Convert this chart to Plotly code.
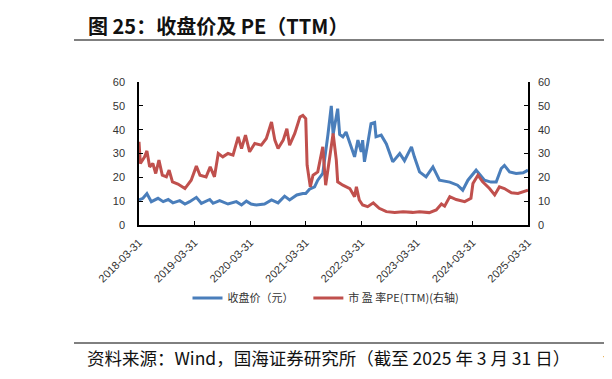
import plotly.graph_objects as go

# ---- data ----
price_dates = [
    "2018-03-31", "2018-04-26", "2018-05-22", "2018-06-20", "2018-08-03", "2018-09-06",
    "2018-10-09", "2018-11-09", "2018-12-24", "2019-01-27", "2019-02-27", "2019-04-12",
    "2019-05-15", "2019-07-09", "2019-07-31", "2019-09-12", "2019-11-06", "2019-12-31",
    "2020-02-03", "2020-03-06", "2020-04-06", "2020-05-09", "2020-07-03", "2020-08-18",
    "2020-09-30", "2020-11-12", "2020-12-15", "2021-01-31", "2021-03-12", "2021-03-31",
    "2021-04-25", "2021-05-28", "2021-06-18", "2021-07-21", "2021-08-24", "2021-09-15",
    "2021-09-27", "2021-10-27", "2021-11-09", "2021-11-30", "2021-12-21", "2022-01-24",
    "2022-02-15", "2022-03-09", "2022-03-31", "2022-04-09", "2022-04-21", "2022-05-12",
    "2022-06-03", "2022-06-27", "2022-07-06", "2022-08-09", "2022-09-12", "2022-10-24",
    "2022-12-09", "2023-01-09", "2023-02-24", "2023-03-15", "2023-04-18", "2023-05-31",
    "2023-07-15", "2023-08-27", "2023-11-03", "2023-12-24", "2024-01-27", "2024-03-01",
    "2024-04-24", "2024-06-18", "2024-07-31", "2024-09-03", "2024-10-06", "2024-10-27",
    "2024-11-30", "2025-01-12", "2025-02-27", "2025-03-31",
]
price_values = [
    10.5, 11.2, 13.2, 9.8, 11.2, 9.8,
    10.7, 9.3, 10.2, 8.8, 9.8, 11.6,
    9.1, 10.7, 9.1, 10.2, 8.8, 9.8,
    8.4, 10.0, 8.8, 8.4, 8.8, 10.5,
    9.3, 12.1, 10.5, 12.6, 13.2, 13.2,
    15.0, 16.0, 18.8, 21.6, 38.0, 50.0,
    38.0, 48.8, 38.0, 37.0, 39.0, 32.8,
    28.6, 35.6, 30.7, 35.6, 26.5, 34.0,
    42.5, 43.0, 37.0, 37.7, 34.0, 26.5,
    30.0, 27.0, 32.8, 28.6, 22.3, 20.2,
    24.4, 18.8, 18.0, 16.7, 14.6, 18.8,
    23.0, 18.8, 18.0, 18.0, 23.7, 25.0,
    22.3, 21.6, 21.9, 23.0,
]

pe_dates = [
    "2018-03-31", "2018-04-09", "2018-05-07", "2018-05-22", "2018-06-09", "2018-06-30",
    "2018-07-19", "2018-08-09", "2018-08-31", "2018-09-27", "2018-10-15", "2018-11-06",
    "2018-12-12", "2019-01-27", "2019-03-09", "2019-04-12", "2019-05-06", "2019-06-15",
    "2019-07-12", "2019-08-09", "2019-09-03", "2019-10-03", "2019-11-06", "2019-12-09",
    "2020-01-12", "2020-02-03", "2020-02-29", "2020-03-27", "2020-04-30", "2020-06-12",
    "2020-07-15", "2020-08-18", "2020-09-09", "2020-09-30", "2020-11-03", "2020-11-27",
    "2020-12-15", "2021-01-18", "2021-02-21", "2021-03-12", "2021-03-31", "2021-04-09",
    "2021-04-30", "2021-05-18", "2021-06-18", "2021-07-21", "2021-08-09", "2021-09-06",
    "2021-09-27", "2021-10-18", "2021-10-27", "2021-11-30", "2022-01-15", "2022-02-15",
    "2022-02-27", "2022-03-18", "2022-04-09", "2022-05-12", "2022-06-18", "2022-07-27",
    "2022-09-12", "2022-11-06", "2022-12-31", "2023-03-03", "2023-04-18", "2023-06-21",
    "2023-08-06", "2023-09-09", "2023-09-30", "2023-11-03", "2023-12-15", "2024-02-09",
    "2024-03-21", "2024-04-03", "2024-05-06", "2024-06-06", "2024-07-21", "2024-08-24",
    "2024-09-24", "2024-10-27", "2024-12-12", "2025-01-24", "2025-03-06", "2025-03-31",
]
pe_values = [
    34.9, 25.8, 28.6, 31.1, 24.4, 25.8,
    21.6, 27.2, 20.9, 20.2, 23.0, 18.1,
    17.2, 15.3, 18.8, 24.7, 20.9, 20.2,
    24.4, 20.2, 30.0, 28.6, 30.0, 29.3,
    37.0, 32.1, 37.7, 30.7, 34.2, 33.5,
    36.3, 43.2, 35.6, 32.1, 35.6, 40.4,
    33.5, 38.4, 45.3, 46.0, 44.6, 25.1,
    16.0, 20.9, 22.3, 32.8, 16.7, 28.6,
    38.4, 27.2, 18.1, 16.7, 15.3, 11.9,
    16.0, 10.5, 8.4, 7.7, 9.3, 7.0,
    5.6, 5.2, 5.6, 5.3, 5.6, 5.2,
    6.3, 8.8, 7.9, 11.9, 10.7, 9.8,
    11.2, 17.4, 20.9, 18.1, 15.3, 12.6,
    16.0, 15.3, 13.5, 13.2, 13.9, 14.6,
]

tick_dates = ["2018-03-31", "2019-03-31", "2020-03-31", "2021-03-31",
              "2022-03-31", "2023-03-31", "2024-03-31", "2025-03-31"]
y_ticks = [0, 10, 20, 30, 40, 50, 60]

title_text = "图 25：收盘价及 PE（TTM）"
source_text = "资料来源：Wind，国海证券研究所（截至 2025 年 3 月 31 日）"
price_name = "收盘价（元）\u00a0\u00a0\u00a0\u00a0"
pe_name = "市 盈 率PE(TTM)(右轴)"

BLUE = "#4A7EBB"
RED = "#C0504D"
TICKFONT = dict(family="Liberation Sans, Arial, sans-serif", size=11, color="#333333")
CJK = "Noto Sans CJK SC, sans-serif"

# The page puts the figure 8 px in from the top-left corner, so the figure is
# sized to the window minus that offset; positions below are page pixels.
OFF = 8
W, H = 612 - OFF, 379 - OFF
L, R, T, B = 139 - OFF, 528 - OFF, 82 - OFF, 225 - OFF   # plot area in figure px
PW, PH = R - L, B - T


def px(x_page):
    return (x_page - OFF - L) / PW


def py(y_page):
    return (B - (y_page - OFF)) / PH


fig = go.Figure()
fig.add_trace(go.Scatter(x=price_dates, y=price_values, mode="lines", name=price_name,
                         line=dict(color=BLUE, width=3), yaxis="y"))
fig.add_trace(go.Scatter(x=pe_dates, y=pe_values, mode="lines", name=pe_name,
                         line=dict(color=RED, width=3), yaxis="y2"))

fig.update_layout(
    width=W, height=H,
    margin=dict(l=L, r=W - R, t=T, b=H - B, autoexpand=False),
    paper_bgcolor="white", plot_bgcolor="white",
    showlegend=True,
    legend=dict(orientation="h", x=px(326), xanchor="center", y=py(298), yanchor="middle",
                font=dict(family=CJK, size=11, color="#333333"),
                bgcolor="rgba(0,0,0,0)"),
    xaxis=dict(
        type="date", range=["2018-03-31", "2025-03-31"],
        tickvals=tick_dates, ticktext=tick_dates, tickangle=-45,
        ticks="inside", ticklen=4, tickcolor="black",
        showline=True, linecolor="black", linewidth=1.5,
        showgrid=False, zeroline=False, tickfont=TICKFONT, automargin=False,
        ticklabelstandoff=5,
    ),
    yaxis=dict(
        range=[0, 60], tickvals=y_ticks, ticks="inside", ticklen=4, tickcolor="black",
        showline=True, linecolor="black", linewidth=1.5, showgrid=False, zeroline=False,
        tickfont=TICKFONT, automargin=False, ticklabelstandoff=10,
    ),
    yaxis2=dict(
        range=[0, 60], tickvals=y_ticks, overlaying="y", side="right",
        ticks="inside", ticklen=4, tickcolor="black",
        showline=True, linecolor="black", linewidth=1.5, showgrid=False, zeroline=False,
        tickfont=TICKFONT, automargin=False, ticklabelstandoff=6,
    ),
)

# title, rules and source
fig.add_annotation(text="<b>" + title_text + "</b>", xref="paper", yref="paper",
                   x=px(86), y=py(25), xanchor="left", yanchor="middle",
                   showarrow=False, font=dict(family=CJK, size=20, color="#111111"))
fig.add_annotation(text="<b>图</b>", xref="paper", yref="paper",
                   x=px(602), y=py(25), xanchor="left", yanchor="middle",
                   showarrow=False, font=dict(family=CJK, size=20, color="#111111"))
fig.add_annotation(text=source_text, xref="paper", yref="paper",
                   x=px(85), y=py(357), xanchor="left", yanchor="middle",
                   showarrow=False, font=dict(family=CJK, size=17.5, color="#111111"))
fig.add_annotation(text="请", xref="paper", yref="paper",
                   x=px(601), y=py(357), xanchor="left", yanchor="middle",
                   showarrow=False, font=dict(family=CJK, size=17, color="#111111"))
fig.add_shape(type="line", xref="paper", yref="paper",
              x0=px(74), x1=px(620), y0=py(40), y1=py(40),
              line=dict(color="#7f7f7f", width=2))
fig.add_shape(type="line", xref="paper", yref="paper",
              x0=px(74), x1=px(620), y0=py(343), y1=py(343),
              line=dict(color="#000000", width=1))

fig.write_html("out.html")
